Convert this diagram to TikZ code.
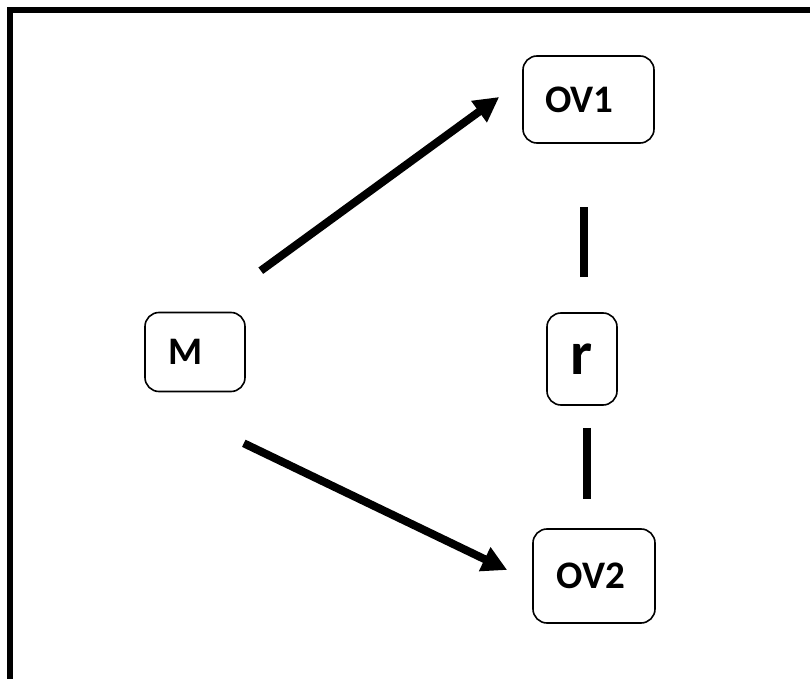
\documentclass[tikz,border=0pt]{standalone}
\usepackage{fontspec}
\setmainfont{Carlito}
\usetikzlibrary{arrows.meta}

\begin{document}
\begin{tikzpicture}[x=0.5pt,y=-0.5pt,
    box/.style={draw,rounded corners=7pt,line width=0.8pt,inner sep=0pt,
      font=\fontsize{19.5}{22}\selectfont\bfseries},
    conn/.style={line width=4pt,-{Triangle[length=12.5pt,width=12.5pt]}},
    link/.style={line width=4pt}]
      \clip (0,0) rectangle (810,679);
      \draw[line width=3.2pt] (10,10) rectangle (830,700);
      \node[box,minimum width=50pt,minimum height=39.5pt] (M) at (195,352) {M\hspace*{9pt}};
      \node[box,minimum width=65.5pt,minimum height=43.5pt] (OV1) at (588.5,99.5) {OV1\hspace*{9pt}};
      \node[box,minimum width=61pt,minimum height=47pt] (OV2) at (594,576) {OV2\hspace*{3pt}};
      \node[box,minimum width=35pt,minimum height=46pt,
        font=\fontsize{31}{32}\selectfont\bfseries] (r) at (582,359) {r};
      \draw[conn] ([shift={(15,-41)}]M.north east) -- ([shift={(-23,-2.5)}]OV1.west);
      \draw[conn] ([shift={(-2,51)}]M.south east) -- ([shift={(-25,-6)}]OV2.west);
      \draw[link,shorten <=17.5pt,shorten >=31.5pt] ([xshift=1pt]r.north) -- ([xshift=-2.25pt]OV1.south);
      \draw[link,shorten <=11pt,shorten >=14.5pt] ([xshift=2.5pt]r.south) -- ([xshift=-3.5pt]OV2.north);
    \end{tikzpicture}
\end{document}
